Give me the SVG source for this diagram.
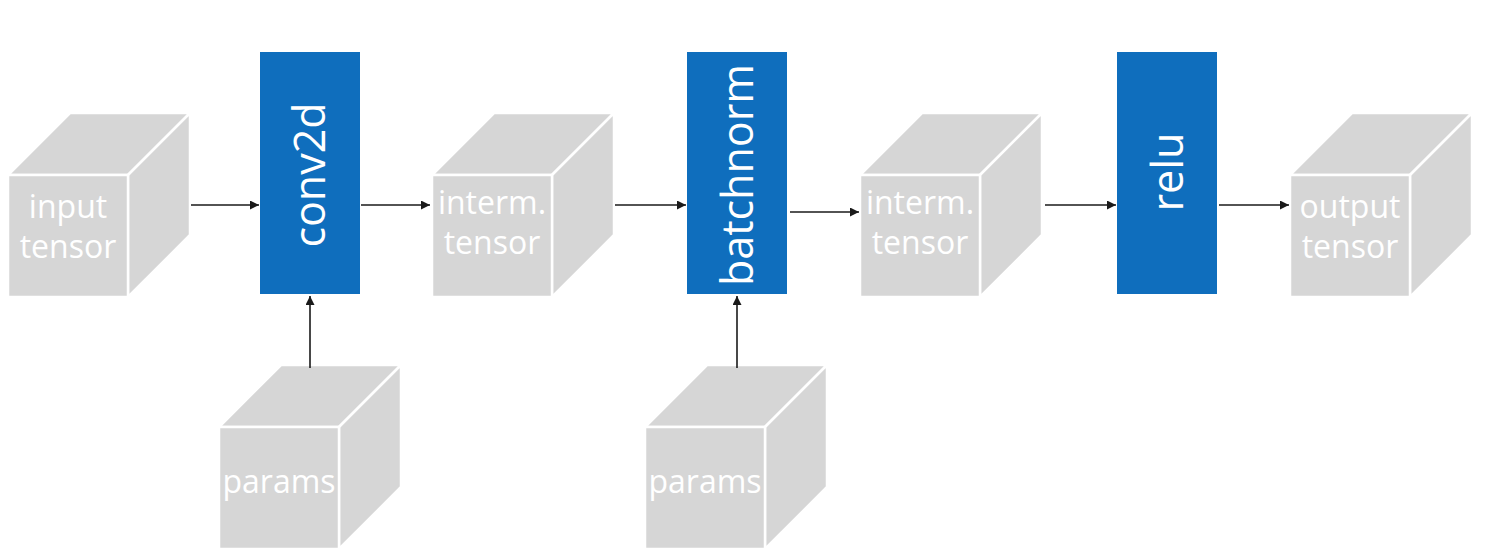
<svg xmlns="http://www.w3.org/2000/svg" width="1504" height="558" viewBox="0 0 1504 558">
  <defs>
    <style>
      .face { fill: #d6d6d6; stroke: #ffffff; stroke-width: 2.5; stroke-linejoin: miter; }
      .ctext { font-family: "Open Sans", "Lato", sans-serif; font-size: 32px; font-weight: 500; fill: #ffffff; text-anchor: middle; }
      .op { fill: #0f6ebd; }
      .otext { font-family: "Open Sans", "Lato", sans-serif; font-size: 43px; font-weight: 500; fill: #ffffff; text-anchor: middle; }
      .edge { stroke: #1a1a1a; stroke-width: 1.6; fill: none; marker-end: url(#arrow); }
    </style>
    <marker id="arrow" viewBox="0 0 10 10" refX="10" refY="5" markerWidth="10" markerHeight="9" markerUnits="userSpaceOnUse" orient="auto">
      <path d="M0,0 L10,5 L0,10 z" fill="#1a1a1a"/>
    </marker>
    <g id="cube">
      <polygon class="face" points="0,62 62,0 182,0 120,62"/>
      <polygon class="face" points="120,62 182,0 182,122 120,184"/>
      <rect class="face" x="0" y="62" width="120" height="122"/>
    </g>
  </defs>
  <rect width="1504" height="558" fill="#ffffff"/>

  <g id="input-tensor">
    <use href="#cube" x="8" y="113"/>
    <text class="ctext" x="68" y="218">input</text>
    <text class="ctext" x="68" y="258">tensor</text>
  </g>

  <g id="conv2d">
    <rect class="op" x="260" y="52" width="100" height="242"/>
    <text class="otext" transform="translate(325,175) rotate(-90)">conv2d</text>
  </g>

  <g id="params-1">
    <use href="#cube" x="219" y="365"/>
    <text class="ctext" x="279" y="493">params</text>
  </g>

  <g id="interm-tensor-1">
    <use href="#cube" x="432" y="113"/>
    <text class="ctext" x="492" y="214">interm.</text>
    <text class="ctext" x="492" y="254">tensor</text>
  </g>

  <g id="batchnorm">
    <rect class="op" x="687" y="52" width="100" height="242"/>
    <text class="otext" transform="translate(753,175) rotate(-90)">batchnorm</text>
  </g>

  <g id="params-2">
    <use href="#cube" x="645" y="365"/>
    <text class="ctext" x="705" y="493">params</text>
  </g>

  <g id="interm-tensor-2">
    <use href="#cube" x="860" y="113"/>
    <text class="ctext" x="920" y="214">interm.</text>
    <text class="ctext" x="920" y="254">tensor</text>
  </g>

  <g id="relu">
    <rect class="op" x="1117" y="52" width="100" height="242"/>
    <text class="otext" transform="translate(1183,172) rotate(-90)">relu</text>
  </g>

  <g id="output-tensor">
    <use href="#cube" x="1290" y="113"/>
    <text class="ctext" x="1350" y="218">output</text>
    <text class="ctext" x="1350" y="258">tensor</text>
  </g>

  <g id="connectors">
    <line class="edge" x1="191" y1="205" x2="259" y2="205"/>
    <line class="edge" x1="361" y1="205" x2="430" y2="205"/>
    <line class="edge" x1="615" y1="205" x2="686" y2="205"/>
    <line class="edge" x1="790" y1="212" x2="859" y2="212"/>
    <line class="edge" x1="1045" y1="205" x2="1116" y2="205"/>
    <line class="edge" x1="1219" y1="205" x2="1289" y2="205"/>
    <line class="edge" x1="310" y1="368" x2="310" y2="296"/>
    <line class="edge" x1="737" y1="368" x2="737" y2="296"/>
  </g>
</svg>
